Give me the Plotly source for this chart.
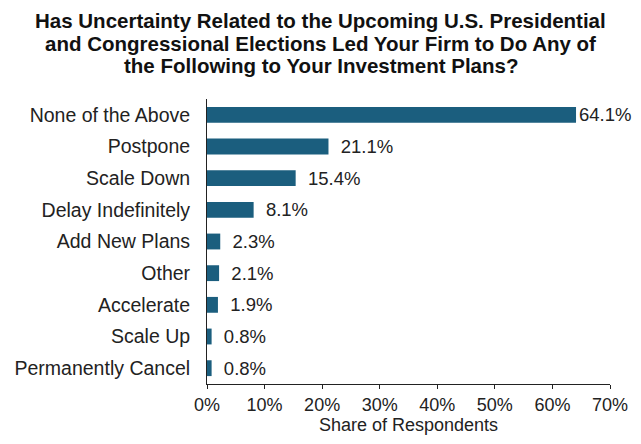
import plotly.graph_objects as go

categories = ["None of the Above", "Postpone", "Scale Down", "Delay Indefinitely",
              "Add New Plans", "Other", "Accelerate", "Scale Up", "Permanently Cancel"]
values = [64.1, 21.1, 15.4, 8.1, 2.3, 2.1, 1.9, 0.8, 0.8]
tick_vals = [0, 10, 20, 30, 40, 50, 60, 70]
tick_text = ["0%", "10%", "20%", "30%", "40%", "50%", "60%", "70%"]
title_lines = ["Has Uncertainty Related to the Upcoming U.S. Presidential",
               "and Congressional Elections Led Your Firm to Do Any of",
               "the Following to Your Investment Plans?"]

FONT = "Liberation Sans, Arial, sans-serif"
W, H = 641, 444
ML, MR, MT, MB = 207, 31, 99, 60
PH = H - MT - MB
PW = W - ML - MR

# small gap before labels (the longest bar's label sits tight to leave room at the edge)
labels = [(f"{v:.1f}%" if v > 60 else f"\u2002{v:.1f}%") for v in values]

fig = go.Figure(go.Bar(
    x=values, y=categories, orientation="h",
    marker=dict(color="#1b5e7e", line=dict(width=0)),
    width=0.5,
    text=labels,
    textposition="outside",
    constraintext="none",
    textfont=dict(family=FONT, size=18.5, color="#222222"),
    cliponaxis=False,
))

annotations = []
for i, line in enumerate(title_lines):
    ypx = 20.5 + 22.5 * i
    annotations.append(dict(
        text=f"<b>{line}</b>", showarrow=False,
        xref="paper", yref="paper",
        x=(W / 2 - ML) / PW, y=(H - MB - ypx) / PH,
        xanchor="center", yanchor="middle",
        font=dict(family=FONT, size=20.5, color="#111111"),
    ))

fig.update_layout(
    width=W, height=H,
    margin=dict(l=ML, r=MR, t=MT, b=MB, autoexpand=False),
    paper_bgcolor="white", plot_bgcolor="white",
    showlegend=False,
    annotations=annotations,
    font=dict(family=FONT, size=18, color="#222222"),
)

fig.update_xaxes(
    range=[0, 70], tickvals=tick_vals, ticktext=tick_text,
    showgrid=False, zeroline=False,
    showline=True, linecolor="#222222", linewidth=1,
    ticks="outside", ticklen=4, tickcolor="#222222",
    tickfont=dict(family=FONT, size=18, color="#222222"),
    title=dict(text="Share of Respondents", standoff=2,
               font=dict(family=FONT, size=18, color="#222222")),
)
fig.update_yaxes(
    categoryorder="array", categoryarray=categories, autorange="reversed",
    showgrid=False, zeroline=False,
    showline=True, linecolor="#222222", linewidth=1,
    ticks="", ticklabelstandoff=12,
    tickfont=dict(family=FONT, size=19.5, color="#222222"),
)

fig.write_html("out.html", config={"displayModeBar": False},
               post_script="document.body.style.margin='0px';")
